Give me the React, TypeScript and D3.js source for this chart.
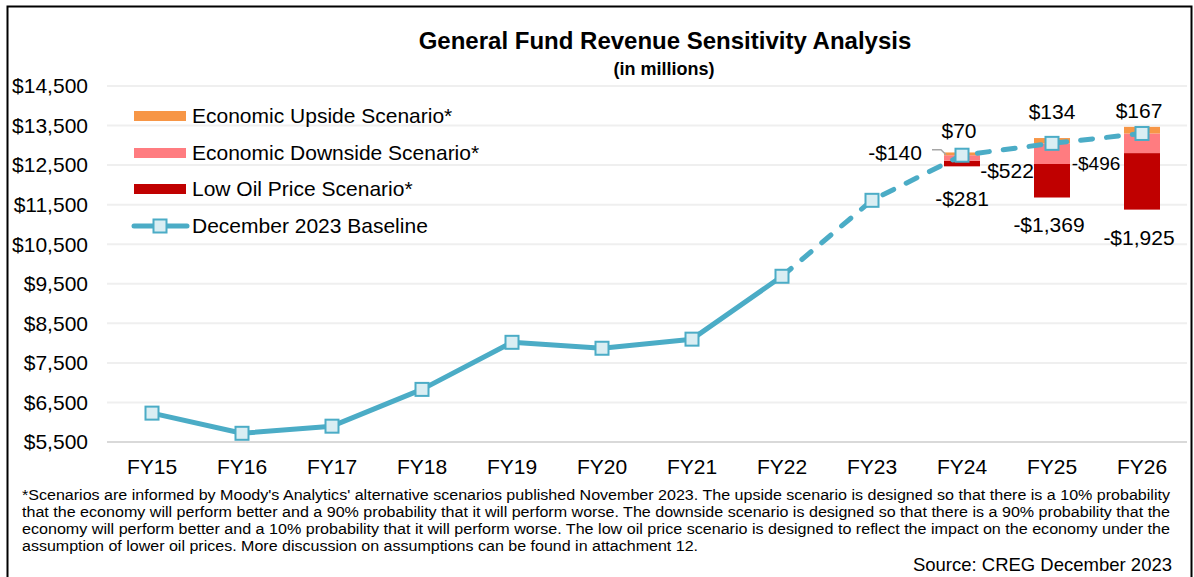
import { useRef, useEffect } from 'react';
import * as d3 from 'd3';

const WIDTH = 1194;
const HEIGHT = 577;
const FONT = '"Liberation Sans", Arial, sans-serif';

const years = ['FY15', 'FY16', 'FY17', 'FY18', 'FY19', 'FY20', 'FY21', 'FY22', 'FY23', 'FY24', 'FY25', 'FY26'];
const baseline = [6230, 5720, 5900, 6830, 8020, 7870, 8100, 9690, 11610, 12750, 13050, 13300];
const actualYears = ['FY15', 'FY16', 'FY17', 'FY18', 'FY19', 'FY20', 'FY21', 'FY22'];

const scenarioYears = ['FY24', 'FY25', 'FY26'];
const upside = [70, 134, 167];
const downside = [-140, -522, -496];
const lowOil = [-281, -1369, -1925];

const yTicks = [5500, 6500, 7500, 8500, 9500, 10500, 11500, 12500, 13500, 14500];

const legendItems = [
  { label: 'Economic Upside Scenario*', color: '#F79646' },
  { label: 'Economic Downside Scenario*', color: '#FF7C80' },
  { label: 'Low Oil Price Scenario*', color: '#C00000' },
];

const footnote = [
  "*Scenarios are informed by Moody's Analytics' alternative scenarios published November 2023. The upside scenario is designed so that there is a 10% probability",
  'that the economy will perform better and a 90% probability that it will perform worse. The downside scenario is designed so that there is a 90% probability that the',
  'economy will perform better and a 10% probability that it will perform worse. The low oil price scenario is designed to reflect the impact on the economy under the',
  'assumption of lower oil prices. More discussion on assumptions can be found in attachment 12.',
];
const FOOTNOTE_WIDTHS = [1148, 1148, 1148, 676];

const LINE_COLOR = '#4BACC6';
const MARKER_FILL = '#DAEEF3';

// label nudges per scenario year (dx from bar centre, dy from segment edge)
const NUDGE = {
  up: [[-3, -22], [0, -26], [-3, -16]],
  down: [[-67, -8], [-45, 7], [-46, 10]],
  low: [[0, 32], [-3, 27], [-3, 28]],
};

const fmt = (v: number) => (v < 0 ? '-$' : '$') + d3.format(',')(Math.abs(v));

export default function App() {
  const svgRef = useRef<SVGSVGElement>(null);

  useEffect(() => {
    if (!svgRef.current) return;
    const svg = d3.select(svgRef.current);
    svg.selectAll('*').remove();

    const x = d3.scaleBand<string>().domain(years).range([107, 1187]).padding(0);
    const cx = (d: string) => (x(d) ?? 0) + x.bandwidth() / 2;
    const y = d3.scaleLinear().domain([5500, 14500]).range([442, 86]);

    // frame
    svg.append('rect')
      .attr('x', 7.5).attr('y', 6.5).attr('width', 1184).attr('height', 600)
      .attr('fill', '#fff').attr('stroke', '#000').attr('stroke-width', 2);

    // gridlines
    svg.append('g').selectAll('line').data(yTicks).enter().append('line')
      .attr('x1', 107).attr('x2', 1187)
      .attr('y1', d => y(d)).attr('y2', d => y(d))
      .attr('stroke', d => (d === 5500 ? '#D9D9D9' : '#EFEFEF'))
      .attr('stroke-width', 2);

    // y tick labels
    svg.append('g').selectAll('text').data(yTicks).enter().append('text')
      .attr('x', 88).attr('y', d => y(d))
      .attr('dy', '0.35em')
      .attr('text-anchor', 'end')
      .attr('font-family', FONT).attr('font-size', 21).attr('fill', '#000')
      .text(d => '$' + d3.format(',')(d));

    // x labels
    svg.append('g').selectAll('text').data(years).enter().append('text')
      .attr('x', d => cx(d)).attr('y', 467)
      .attr('dy', '0.35em')
      .attr('text-anchor', 'middle')
      .attr('font-family', FONT).attr('font-size', 21).attr('fill', '#000')
      .text(d => d);

    // title
    svg.append('text').attr('x', 665).attr('y', 49)
      .attr('text-anchor', 'middle').attr('font-family', FONT)
      .attr('font-size', 24).attr('font-weight', 700).text('General Fund Revenue Sensitivity Analysis');
    svg.append('text').attr('x', 664).attr('y', 75)
      .attr('text-anchor', 'middle').attr('font-family', FONT)
      .attr('font-size', 18).attr('font-weight', 700).text('(in millions)');

    // scenario bars
    const scen = scenarioYears.map((yr, i) => ({
      yr, base: baseline[years.indexOf(yr)], up: upside[i], down: downside[i], low: lowOil[i], i,
    }));
    const barW = 36;
    const bars = svg.append('g');
    scen.forEach(s => {
      const left = cx(s.yr) - barW / 2;
      const segs = [
        { from: s.base + s.low, to: s.base + s.down, color: legendItems[2].color },
        { from: s.base + s.down, to: s.base, color: legendItems[1].color },
        { from: s.base, to: s.base + s.up, color: legendItems[0].color },
      ];
      bars.selectAll(null).data(segs).enter().append('rect')
        .attr('x', left).attr('width', barW)
        .attr('y', d => y(d.to)).attr('height', d => y(d.from) - y(d.to))
        .attr('fill', d => d.color);
    });

    // baseline line: solid for actuals, dashed for forecast
    const line = d3.line<string>().x(d => cx(d)).y(d => y(baseline[years.indexOf(d)]));
    const forecastYears = years.slice(years.indexOf(actualYears[actualYears.length - 1]));
    svg.append('path').attr('d', line(actualYears))
      .attr('fill', 'none').attr('stroke', LINE_COLOR).attr('stroke-width', 5)
      .attr('stroke-linejoin', 'round');
    svg.append('path').attr('d', line(forecastYears))
      .attr('fill', 'none').attr('stroke', LINE_COLOR).attr('stroke-width', 5)
      .attr('stroke-linecap', 'round').attr('stroke-dasharray', '12 14');

    const ms = 13;
    svg.append('g').selectAll('rect').data(years).enter().append('rect')
      .attr('x', d => cx(d) - ms / 2).attr('y', (d, i) => y(baseline[i]) - ms / 2)
      .attr('width', ms).attr('height', ms)
      .attr('fill', MARKER_FILL).attr('stroke', LINE_COLOR).attr('stroke-width', 2);

    // scenario labels
    const labels = svg.append('g').attr('font-family', FONT).attr('fill', '#000').attr('text-anchor', 'middle');
    scen.forEach(s => {
      const c = cx(s.yr);
      const [ux, uy] = NUDGE.up[s.i];
      const [dx, dy] = NUDGE.down[s.i];
      const [lx, ly] = NUDGE.low[s.i];
      labels.append('text').attr('x', c + ux).attr('y', y(s.base + s.up) + uy)
        .attr('dy', '0.35em').attr('font-size', 21).text(fmt(s.up));
      labels.append('text').attr('x', c + dx).attr('y', y(s.base + s.down) + dy)
        .attr('dy', '0.35em').attr('font-size', s.i === 2 ? 19 : 21).text(fmt(s.down));
      labels.append('text').attr('x', c + lx).attr('y', y(s.base + s.low) + ly)
        .attr('dy', '0.35em').attr('font-size', 21).text(fmt(s.low));
      if (s.i === 0) {
        const ly0 = y(s.base + s.down) + dy - 3;
        labels.append('path')
          .attr('d', `M${c + dx + 37},${ly0}H${c - barW / 2 - 3}L${c - barW / 2 + 2},${ly0 + 5}`)
          .attr('fill', 'none').attr('stroke', '#A6A6A6').attr('stroke-width', 1.5);
      }
    });

    // legend
    const lg = svg.append('g').attr('font-family', FONT).attr('font-size', 21);
    const rowY = [116, 153, 189, 226];
    legendItems.forEach((it, i) => {
      lg.append('rect').attr('x', 134).attr('y', rowY[i] - 5).attr('width', 52).attr('height', 10).attr('fill', it.color);
      lg.append('text').attr('x', 192).attr('y', rowY[i]).attr('dy', '0.35em').text(it.label);
    });
    lg.append('line').attr('x1', 134).attr('x2', 187).attr('y1', rowY[3]).attr('y2', rowY[3])
      .attr('stroke', LINE_COLOR).attr('stroke-width', 5).attr('stroke-linecap', 'round');
    lg.append('rect').attr('x', 160 - ms / 2).attr('y', rowY[3] - ms / 2).attr('width', ms).attr('height', ms)
      .attr('fill', MARKER_FILL).attr('stroke', LINE_COLOR).attr('stroke-width', 2);
    lg.append('text').attr('x', 192).attr('y', rowY[3]).attr('dy', '0.35em').text('December 2023 Baseline');

    // footnote
    const fn = svg.append('g').attr('font-family', FONT).attr('font-size', 15.5);
    footnote.forEach((t, i) => {
      fn.append('text').attr('x', 22).attr('y', 495 + i * 17).attr('dy', '0.35em')
        .attr('textLength', FOOTNOTE_WIDTHS[i]).attr('lengthAdjust', 'spacingAndGlyphs')
        .text(t);
    });
    svg.append('text').attr('x', 1172).attr('y', 565).attr('dy', '0.35em')
      .attr('text-anchor', 'end').attr('font-family', FONT).attr('font-size', 18.5)
      .text('Source: CREG December 2023');
  }, []);

  return (
    <svg ref={svgRef} width={WIDTH} height={HEIGHT}
      style={{ position: 'absolute', left: 0, top: 0, background: '#fff' }} />
  );
}
